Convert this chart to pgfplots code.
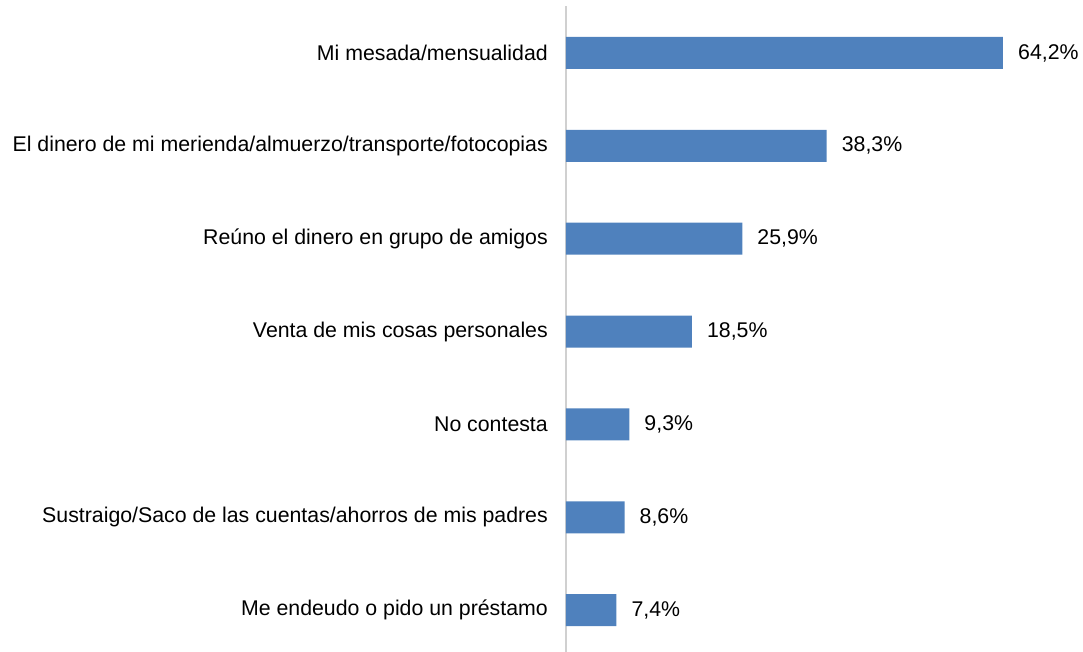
\documentclass[border=0pt]{standalone}
\usepackage{pgfplots}
\pgfplotsset{compat=1.18}
\usepackage{fontspec}
\setmainfont{Liberation Sans}
\definecolor{barblue}{HTML}{4F81BD}
\definecolor{axgray}{HTML}{D0D0D0}
\newcommand{\lblfont}{\fontsize{21.3bp}{25bp}\selectfont}
\begin{document}
\begin{tikzpicture}
\begin{axis}[
  scale only axis,
  width=510.5bp, height=646bp,
  xmin=0, xmax=75,
  ymin=-0.506, ymax=6.45,
  y dir=reverse,
  axis x line=none,
  axis y line=left,
  y axis line style={draw=axgray, line width=1.5bp, -},
  ytick={0,1,2,3,4,5,6},
  yticklabels={Mi mesada/mensualidad,
    El dinero de mi merienda/almuerzo/transporte/fotocopias,
    Reúno el dinero en grupo de amigos,
    Venta de mis cosas personales,
    No contesta,
    Sustraigo/Saco de las cuentas/ahorros de mis padres,
    Me endeudo o pido un préstamo},
  major tick length=0pt,
  yticklabel style={font=\lblfont, inner sep=0pt, xshift=-18bp},
  xbar, bar width=32bp,
  nodes near coords={\pgfmathprintnumber[fixed, fixed zerofill, precision=1, use comma, assume math mode=true]{\pgfplotspointmeta}\%},
  nodes near coords style={font=\lblfont, anchor=west, inner sep=0pt, xshift=15bp},
  clip=false,
]
\addplot[fill=barblue, draw=none] coordinates {
  (64.2,0) (38.3,1) (25.9,2) (18.5,3) (9.3,4) (8.6,5) (7.4,6)
};
\end{axis}
\pgfresetboundingbox
\useasboundingbox (-566bp,0) rectangle (517bp,652bp);
\end{tikzpicture}
\end{document}
